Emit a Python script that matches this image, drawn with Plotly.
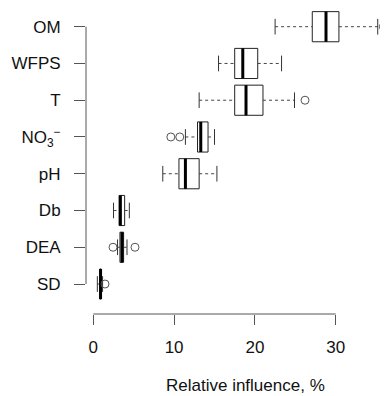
import plotly.graph_objects as go

# ---- data ----
categories = ["OM", "WFPS", "T", "NO3", "pH", "Db", "DEA", "SD"]
tick_labels = ["OM", "WFPS", "T", "NO<sub>3</sub><sup>−</sup>", "pH", "Db", "DEA", "SD"]
lower_whisker = [22.5, 15.5, 13.1, 11.4, 8.6, 2.5, 3.0, 0.5]
q1 = [27.1, 17.5, 17.5, 12.9, 10.6, 3.2, 3.3, 0.8]
median = [28.8, 18.5, 18.9, 13.3, 11.4, 3.35, 3.55, 0.9]
q3 = [30.4, 20.35, 21.0, 14.2, 13.1, 3.88, 3.75, 0.97]
upper_whisker = [35.2, 23.3, 24.9, 15.0, 15.3, 4.46, 4.17, 1.15]
outlier_cat = ["OM", "T", "NO3", "NO3", "DEA", "DEA", "SD"]
outlier_val = [35.9, 26.2, 9.6, 10.7, 2.44, 5.16, 1.45]
x_ticks = [0, 10, 20, 30]
x_title = "Relative influence, %"

FONT = "Liberation Sans, Arial, sans-serif"
OFF = 8  # page body margin
W, H = 388 - OFF, 396 - OFF
ML, MR, MT = 86 - OFF, 0, 0
MB = H - (314 - OFF)

fig = go.Figure()

# dashed whiskers
wx, wy = [], []
for c, lf, a, b, uf in zip(categories, lower_whisker, q1, q3, upper_whisker):
    wx += [lf, a, None, b, uf, None]
    wy += [c, c, None, c, c, None]
fig.add_trace(go.Scatter(x=wx, y=wy, mode="lines",
                         line=dict(color="#444", width=1, dash="3px,3px"),
                         hoverinfo="skip", showlegend=False))
# whisker caps
fig.add_trace(go.Scatter(x=lower_whisker + upper_whisker, y=categories + categories,
                         mode="markers",
                         marker=dict(symbol="line-ns", size=11.2,
                                     line=dict(color="#333", width=1)),
                         hoverinfo="skip", showlegend=False))
# boxes
fig.add_trace(go.Box(y=categories, q1=q1, median=median, q3=q3,
                     lowerfence=q1, upperfence=q3, orientation="h",
                     width=0.82, whiskerwidth=0, fillcolor="white",
                     line=dict(color="#222", width=1), boxpoints=False,
                     hoverinfo="skip", showlegend=False))
# thick medians
fig.add_trace(go.Scatter(x=median, y=categories, mode="markers",
                         marker=dict(symbol="line-ns", size=21.5,
                                     line=dict(color="black", width=3)),
                         hoverinfo="skip", showlegend=False))
# outliers
fig.add_trace(go.Scatter(x=outlier_val, y=outlier_cat, mode="markers",
                         marker=dict(symbol="circle-open", size=8,
                                     color="#555", line=dict(width=1)),
                         hoverinfo="skip", showlegend=False))

px_per_unit = 8.08
x0_px = 93.3 - OFF
x_lo = (ML - x0_px) / px_per_unit
x_hi = (W - MR - x0_px) / px_per_unit

step = 36.76
cat0_px = 26.7 - OFF
plot_h = H - MT - MB
y_top = (MT - cat0_px) / step
y_bot = (H - MB - cat0_px) / step

fig.update_layout(
    width=W, height=H,
    margin=dict(l=ML, r=MR, t=MT, b=MB),
    plot_bgcolor="white", paper_bgcolor="white",
    font=dict(family=FONT, size=17, color="#111"),
    xaxis=dict(range=[x_lo, x_hi], tickvals=x_ticks, showgrid=False,
               zeroline=False, showline=False, ticks="outside", ticklen=10,
               tickcolor="#555", tickwidth=1, ticklabelstandoff=8,
               tickfont=dict(size=17)),
    yaxis=dict(type="category", categoryorder="array", categoryarray=categories,
               tickmode="array", tickvals=categories, ticktext=tick_labels,
               range=[y_bot, y_top], showgrid=False, zeroline=False,
               showline=False, ticks="outside", ticklen=11, tickcolor="#555",
               tickwidth=1, ticklabelstandoff=10, tickfont=dict(size=17)),
    shapes=[
        dict(type="line", xref="x", yref="paper", x0=x_ticks[0], x1=x_ticks[-1],
             y0=0, y1=0, line=dict(color="#555", width=1)),
        dict(type="line", xref="paper", yref="y", x0=0, x1=0,
             y0=0, y1=len(categories) - 1, line=dict(color="#555", width=1)),
    ],
    annotations=[dict(text=x_title, xref="paper", yref="paper",
                      x=(245 - OFF - ML) / (W - ML - MR),
                      y=(H - MB - (385 - OFF)) / plot_h,
                      xanchor="center", yanchor="middle", showarrow=False,
                      font=dict(size=17, color="#111"))],
)

fig.write_html("out.html")
